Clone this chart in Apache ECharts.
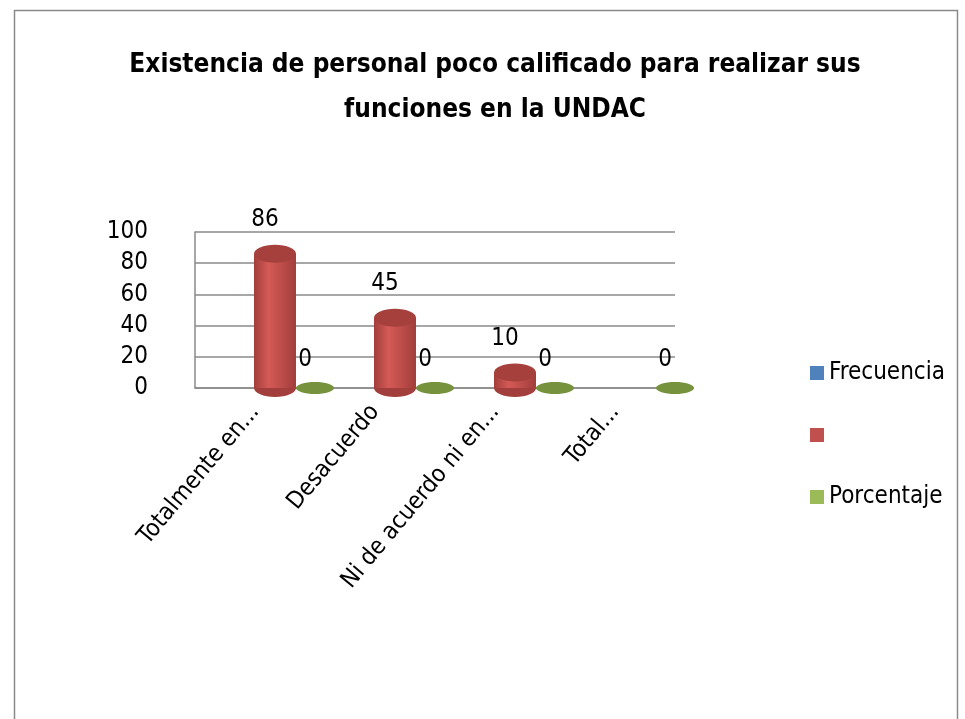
<!DOCTYPE html>
<html>
<head>
<meta charset="utf-8">
<script src="https://cdn.jsdelivr.net/npm/echarts@6/dist/echarts.min.js"></script>
<style>
  html, body { margin: 0; padding: 0; background: #fff; }
  #main { width: 965px; height: 719px; }
</style>
</head>
<body>
<div id="main"></div>
<script>
    // datos
    var categorias = ['Totalmente en...', 'Desacuerdo', 'Ni de acuerdo ni en...', 'Total...'];
    var frecuencia = [null, null, null, null];
    var serieRoja = [86, 45, 10, null];
    var porcentaje = [0, 0, 0, 0];
    var yTicks = [0, 20, 40, 60, 80, 100];

    var fuente = "'Liberation Sans Narrow', 'DejaVu Sans Condensed', sans-serif";

    function toData(arr) {
        return arr.map(function (v, i) { return [i, v]; });
    }

    // cilindro simple: cuerpo + tapa elipse
    function cilindro(offset, c) {
        return function (params, api) {
            var v = api.value(1);
            if (v === null || v === undefined || isNaN(v)) return;
            var base = api.coord([api.value(0), 0]);
            var top = api.coord([api.value(0), v]);
            var cx = base[0] + offset;
            var rx = c.w / 2, ry = c.ry;
            var children = [];
            if (v > 0) {
                children.push({
                    type: 'ellipse',
                    shape: { cx: cx, cy: base[1], rx: rx, ry: ry },
                    style: { fill: c.dark }
                });
                children.push({
                    type: 'rect',
                    shape: { x: cx - rx, y: top[1], width: c.w, height: base[1] - top[1] },
                    style: {
                        fill: new echarts.graphic.LinearGradient(0, 0, 1, 0, [
                            { offset: 0, color: c.dark },
                            { offset: 0.35, color: c.light },
                            { offset: 1, color: c.dark }
                        ])
                    }
                });
                children.push({
                    type: 'ellipse',
                    shape: { cx: cx, cy: top[1], rx: rx, ry: ry },
                    style: { fill: c.top }
                });
            } else {
                children.push({
                    type: 'ellipse',
                    shape: { cx: cx, cy: base[1], rx: rx, ry: ry },
                    style: { fill: c.top }
                });
            }
            children.push({
                type: 'text',
                style: {
                    text: String(v),
                    x: cx - 10,
                    y: top[1] - (v > 0 ? 22 : 16),
                    align: 'center',
                    verticalAlign: 'bottom',
                    fill: '#000',
                    fontSize: 24,
                    fontFamily: fuente
                }
            });
            return { type: 'group', children: children };
        };
    }

    var myChart = echarts.init(document.getElementById('main'));

    var option = {
        backgroundColor: '#fff',
        animation: false,
        title: {
            text: 'Existencia de personal poco calificado para realizar sus\nfunciones en la UNDAC',
            left: 490,
            textAlign: 'center',
            top: 38,
            textStyle: {
                fontFamily: fuente,
                fontSize: 26,
                fontWeight: 'bold',
                color: '#000',
                lineHeight: 45
            }
        },
        graphic: [{
            type: 'rect',
            left: 12, top: 8,
            shape: { width: 943, height: 730 },
            style: { fill: 'none', stroke: '#8a8a8a', lineWidth: 1.5 },
            silent: true
        }],
        legend: {
            orient: 'vertical',
            left: 805,
            top: 356,
            itemGap: 38,
            itemWidth: 14,
            itemHeight: 14,
            icon: 'rect',
            data: ['Frecuencia', ' ', 'Porcentaje'],
            textStyle: { fontFamily: fuente, fontSize: 24, color: '#000' }
        },
        grid: { left: 195, right: 290, top: 232, bottom: 331, containLabel: false },
        xAxis: {
            type: 'category',
            data: categorias,
            axisLine: { show: true, lineStyle: { color: '#8a8a8a', width: 1.5 } },
            axisTick: { show: false },
            axisLabel: {
                interval: 0,
                rotate: 50,
                margin: 20,
                fontFamily: fuente,
                fontSize: 24,
                color: '#000'
            }
        },
        yAxis: {
            type: 'value',
            min: 0,
            max: 100,
            interval: 20,
            axisLine: { show: true, lineStyle: { color: '#8a8a8a', width: 1.5 } },
            axisTick: { show: false },
            splitLine: { lineStyle: { color: '#8a8a8a', width: 1.5 } },
            axisLabel: {
                margin: 47,
                fontFamily: fuente,
                fontSize: 24,
                color: '#000',
                formatter: function (v) { return yTicks.indexOf(v) >= 0 ? String(v) : ''; }
            }
        },
        series: [
            {
                name: 'Frecuencia',
                type: 'custom',
                itemStyle: { color: '#4f81bd' },
                renderItem: cilindro(0, { w: 40, ry: 8, dark: '#3c6394', light: '#6a96cc', top: '#4f81bd' }),
                data: toData(frecuencia)
            },
            {
                name: ' ',
                type: 'custom',
                itemStyle: { color: '#c0504d' },
                renderItem: cilindro(20, { w: 42, ry: 9, dark: '#a23e3b', light: '#d45a56', top: '#a5403d' }),
                data: toData(serieRoja)
            },
            {
                name: 'Porcentaje',
                type: 'custom',
                itemStyle: { color: '#9bbb59' },
                renderItem: cilindro(60, { w: 38, ry: 6, dark: '#6b8a32', light: '#8fb04c', top: '#76923c' }),
                data: toData(porcentaje)
            }
        ]
    };

    myChart.setOption(option);
</script>
</body>
</html>
